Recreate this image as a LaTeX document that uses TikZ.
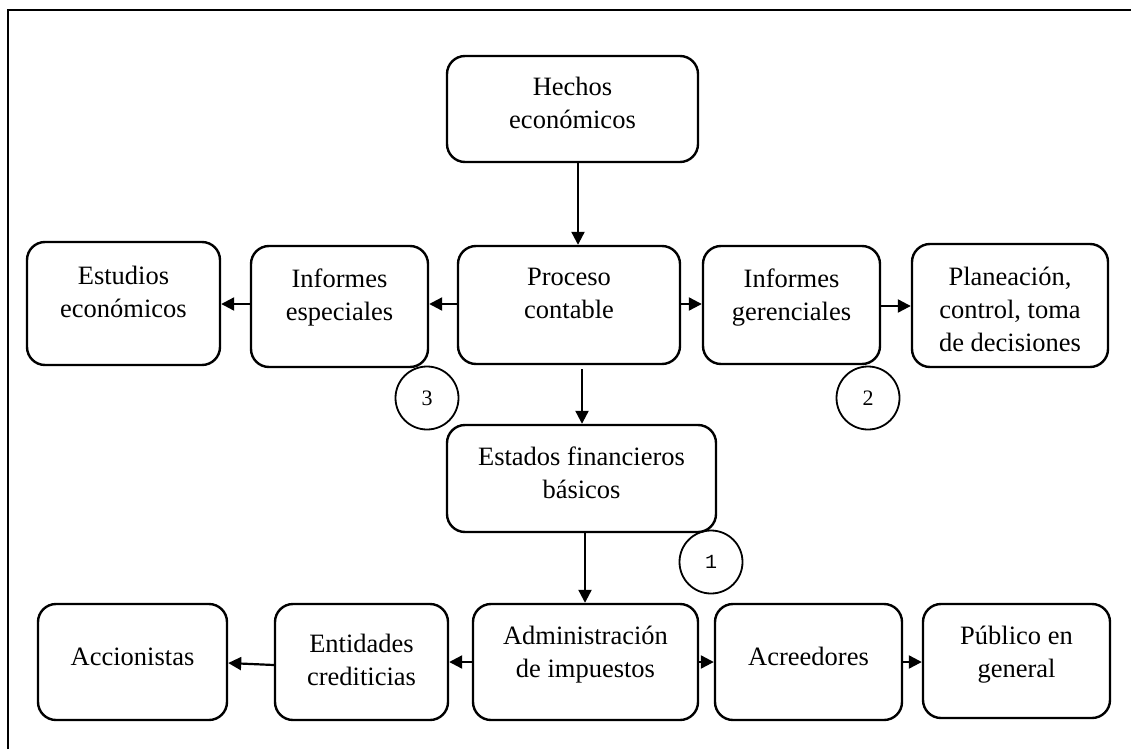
\documentclass[tikz,border=0pt]{standalone}
\usepackage{fontspec}
\setmainfont{Liberation Serif}
\newfontfamily\monofnt{Liberation Mono}
\usetikzlibrary{arrows.meta}
\begin{document}
\begin{tikzpicture}[x=1pt,y=-1pt,
  box/.style={draw, line width=2.4pt, rounded corners=18pt, inner sep=0pt},
  txt/.style={anchor=north, inner sep=0pt, align=center,
    font=\fontsize{26.5}{33}\selectfont, execute at begin node=\strut},
  arr/.style={line width=2.2pt, -{Triangle[length=13pt,width=13pt]}},
  num/.style={draw, circle, line width=1.8pt, minimum size=63pt, inner sep=0pt,
    font=\fontsize{22}{26}\selectfont}]
\useasboundingbox (0,0) rectangle (1131,749);
\draw[line width=2pt] (8,749) -- (8,10) -- (1131,10);

% boxes
\node[box, minimum width=251pt, minimum height=106pt] (hechos) at (572.5,109) {};
\node[box, minimum width=193pt, minimum height=123pt] (estudios) at (123.5,303.5) {};
\node[box, minimum width=177pt, minimum height=121pt] (especiales) at (339.5,306.5) {};
\node[box, minimum width=222pt, minimum height=118pt] (proceso) at (569,305) {};
\node[box, minimum width=177pt, minimum height=118pt] (gerenciales) at (791.5,305) {};
\node[box, minimum width=196pt, minimum height=123pt] (planeacion) at (1010,305.5) {};
\node[box, minimum width=269pt, minimum height=107pt] (estados) at (581.5,478.5) {};
\node[box, minimum width=189pt, minimum height=116pt] (accionistas) at (132.5,662) {};
\node[box, minimum width=173pt, minimum height=116pt] (entidades) at (361.5,662) {};
\node[box, minimum width=225pt, minimum height=116pt] (admin) at (585.5,662) {};
\node[box, minimum width=187pt, minimum height=116pt] (acreedores) at (808.5,662) {};
\node[box, minimum width=187pt, minimum height=114pt] (publico) at (1016.5,661) {};

% texts
\node[txt] (t-hechos) at ([yshift=-22pt]hechos.north) {Hechos\\económicos};
\node[txt] (t-estudios) at ([yshift=-25pt]estudios.north) {Estudios\\económicos};
\node[txt] (t-especiales) at ([yshift=-24pt]especiales.north) {Informes\\especiales};
\node[txt] (t-proceso) at ([yshift=-23pt]proceso.north) {Proceso\\contable};
\node[txt] (t-gerenciales) at ([yshift=-24pt]gerenciales.north) {Informes\\gerenciales};
\node[txt] (t-planeacion) at ([yshift=-24pt]planeacion.north) {Planeación,\\control, toma\\de decisiones};
\node[txt] (t-estados) at ([yshift=-23pt]estados.north) {Estados financieros\\básicos};
\node[txt] (t-accionistas) at ([yshift=-39pt]accionistas.north) {Accionistas};
\node[txt] (t-entidades) at ([yshift=-31pt]entidades.north) {Entidades\\crediticias};
\node[txt] (t-admin) at ([yshift=-23pt]admin.north) {Administración\\de impuestos};
\node[txt] (t-acreedores) at ([yshift=-39pt]acreedores.north) {Acreedores};
\node[txt] (t-publico) at ([yshift=-23pt]publico.north) {Público en\\general};

% circles
\node[num] (c3) at (427,398) {3};
\node[num] (c2) at (868,398) {2};
\node[num, font=\monofnt\fontsize{20}{24}\selectfont] (c1) at (711,562) {1};

% connectors
\draw[arr] ([xshift=5.5pt]hechos.south) -- ([xshift=9pt]proceso.north);
\draw[arr] ([yshift=1pt]proceso.west) -- ([yshift=2.5pt]especiales.east);
\draw[arr] ([yshift=2.5pt]especiales.west) -- ([yshift=-0.5pt]estudios.east);
\draw[arr] ([yshift=1pt]proceso.east) -- ([yshift=1pt]gerenciales.west);
\draw[arr] ([yshift=-1pt]gerenciales.east) -- ([yshift=-0.5pt]planeacion.west);
\draw[arr, shorten <=4pt] ([xshift=13pt]proceso.south) -- ([xshift=0.5pt]estados.north);
\draw[arr] ([xshift=3.5pt]estados.south) -- ([xshift=-0.5pt]admin.north);
\draw[arr] (admin.west) -- (entidades.east);
\draw[arr] ([yshift=-3pt]entidades.west) -- ([yshift=-1pt]accionistas.east);
\draw[arr] (admin.east) -- (acreedores.west);
\draw[arr] (acreedores.east) -- ([yshift=-1pt]publico.west);
\end{tikzpicture}
\end{document}
